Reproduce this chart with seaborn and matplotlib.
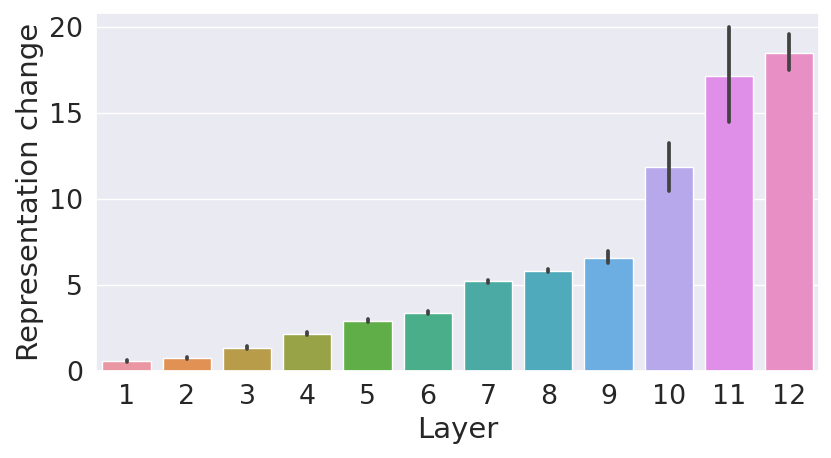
import pandas as pd
import seaborn as sns
import matplotlib.pyplot as plt

layers = [1, 2, 3, 4, 5, 6, 7, 8, 9, 10, 11, 12]
mean_change = [0.56, 0.76, 1.36, 2.17, 2.93, 3.39, 5.21, 5.82, 6.59, 11.86, 17.15, 18.47]
ci_low = [0.50, 0.70, 1.29, 2.09, 2.85, 3.31, 5.12, 5.72, 6.25, 10.47, 14.48, 17.46]
ci_high = [0.63, 0.83, 1.43, 2.27, 3.02, 3.48, 5.31, 5.94, 6.98, 13.26, 19.96, 19.55]

df = pd.DataFrame({"Layer": layers, "change": mean_change})

sns.set_theme(style="darkgrid", font_scale=1.75)

fig, ax = plt.subplots(figsize=(8.31, 4.58), dpi=100)
sns.barplot(data=df, x="Layer", y="change", hue="Layer",
            palette=sns.husl_palette(len(layers), l=.7), legend=False,
            errorbar=None, saturation=0.75, ax=ax)

# confidence intervals
ax.vlines(range(len(layers)), ci_low, ci_high, color=".26",
          linewidth=2.7, capstyle="round")

ax.set_xlabel("Layer")
ax.set_ylabel("Representation change")
ax.set_xlim(-0.5, len(layers) - 0.5)
ax.set_ylim(0, 20.8)
ax.set_yticks([0, 5, 10, 15, 20])

plt.subplots_adjust(left=0.116, right=0.986, top=0.972, bottom=0.19)
plt.savefig("out.png", dpi=100)
